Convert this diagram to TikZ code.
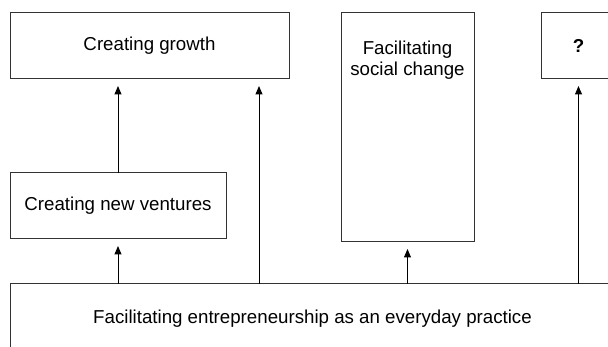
\documentclass[tikz,border=0pt]{standalone}
\usepackage{fontspec}
\setmainfont{Liberation Sans}
\usetikzlibrary{arrows.meta}
\definecolor{edge}{HTML}{333333}
\begin{document}
\begin{tikzpicture}[x=1pt,y=-1pt,
  box/.style={draw=edge,line width=1pt,rectangle,inner sep=0pt,outer sep=0pt,
    font=\fontsize{18.7}{20.5}\selectfont,align=center},
  arr/.style={draw=black,line width=1pt,-{Triangle[width=7pt,length=8.5pt]},shorten >=7pt}]
\useasboundingbox (0,0) rectangle (608,347);
\clip (0,0) rectangle (608,347);
% upper row
\node[box,minimum width=279,minimum height=66] (growth) at (149.5,46) {Creating growth};
\node[box,minimum width=133,minimum height=229] (social) at (407.5,127.5) {};
\node[anchor=north,inner sep=0pt,font=\fontsize{18.7}{20.5}\selectfont,align=center]
  (socialtxt) at ([yshift=-28pt]social.north) {Facilitating\\social change};
\node[box,minimum width=75,minimum height=66] (other) at (578.5,46) {\bfseries ?};
% middle
\node[box,minimum width=216,minimum height=66] (ventures) at (118,206) {Creating new ventures};
% base
\node[box,minimum width=605,minimum height=70] (base) at (312.5,319) {Facilitating entrepreneurship as an everyday practice};
% connectors
\coordinate (g2) at ([xshift=109.5pt]growth.south);
\draw[arr] (base.north -| ventures.south) -- (ventures.south);
\draw[arr] (ventures.north) -- (ventures.north |- growth.south);
\draw[arr] (base.north -| g2) -- (g2);
\draw[arr] (base.north -| social.south) -- (social.south);
\draw[arr] (base.north -| other.south) -- (other.south);
\end{tikzpicture}
\end{document}
